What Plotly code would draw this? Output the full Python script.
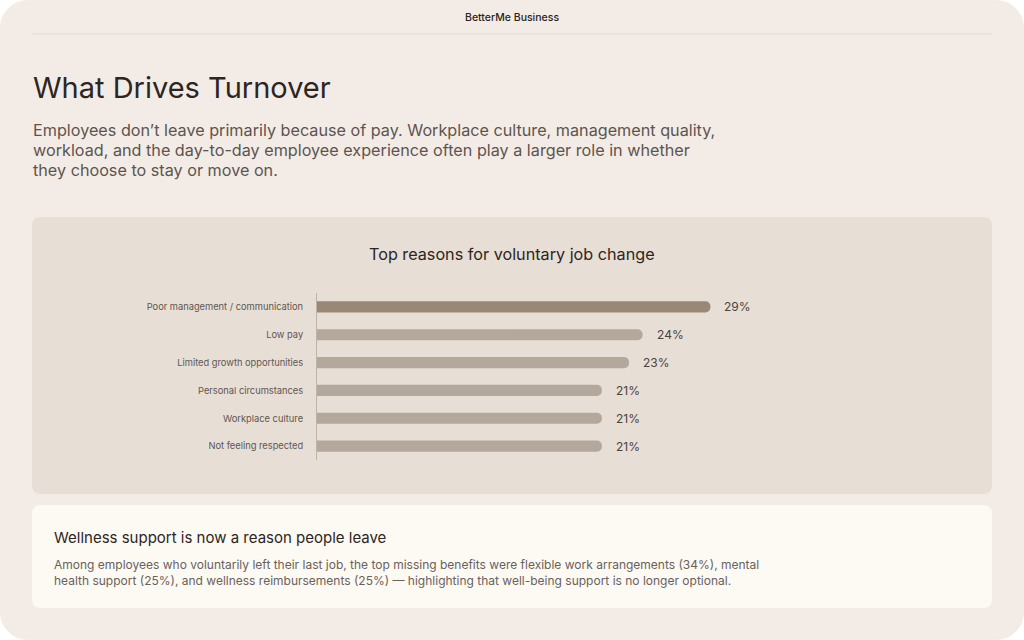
import plotly.graph_objects as go

W, H = 1024, 640

reasons = [
    "Poor management / communication",
    "Low pay",
    "Limited growth opportunities",
    "Personal circumstances",
    "Workplace culture",
    "Not feeling respected",
]
values = [29, 24, 23, 21, 21, 21]
value_labels = ["29%", "24%", "23%", "21%", "21%", "21%"]
bar_colors = ["#9A8877", "#B4A89C", "#B4A89C", "#B4A89C", "#B4A89C", "#B4A89C"]

header_text = "BetterMe Business"
title_text = "What Drives Turnover"
subtitle_lines = [
    "Employees don\u2019t leave primarily because of pay. Workplace culture, management quality,",
    "workload, and the day-to-day employee experience often play a larger role in whether",
    "they choose to stay or move on.",
]
chart_title = "Top reasons for voluntary job change"
card_heading = "Wellness support is now a reason people leave"
card_body_lines = [
    "Among employees who voluntarily left their last job, the top missing benefits were flexible work arrangements (34%), mental",
    "health support (25%), and wellness reimbursements (25%) \u2014 highlighting that well-being support is no longer optional.",
]

FONT = "Inter, 'Noto Sans', sans-serif"


def px(x):
    return x / W


def py(y):
    return 1 - y / H


def rrect(x0, y0, x1, y1, r):
    k = 0.5523 * r
    X = lambda v: f"{v / W:.6f}"
    Y = lambda v: f"{1 - v / H:.6f}"
    return (
        f"M {X(x0 + r)},{Y(y0)} L {X(x1 - r)},{Y(y0)} "
        f"C {X(x1 - r + k)},{Y(y0)} {X(x1)},{Y(y0 + r - k)} {X(x1)},{Y(y0 + r)} "
        f"L {X(x1)},{Y(y1 - r)} "
        f"C {X(x1)},{Y(y1 - r + k)} {X(x1 - r + k)},{Y(y1)} {X(x1 - r)},{Y(y1)} "
        f"L {X(x0 + r)},{Y(y1)} "
        f"C {X(x0 + r - k)},{Y(y1)} {X(x0)},{Y(y1 - r + k)} {X(x0)},{Y(y1 - r)} "
        f"L {X(x0)},{Y(y0 + r)} "
        f"C {X(x0)},{Y(y0 + r - k)} {X(x0 + r - k)},{Y(y0)} {X(x0 + r)},{Y(y0)} Z"
    )


fig = go.Figure()
fig.add_trace(go.Bar(
    x=values, y=reasons, orientation="h",
    marker=dict(color=bar_colors, cornerradius=6, line=dict(width=0)),
    hoverinfo="skip",
))

shapes = [
    dict(type="path", path=rrect(0, 0, 1024, 640, 28), xref="paper", yref="paper",
         fillcolor="#F3ECE6", line=dict(width=0), layer="below"),
    dict(type="line", x0=px(32), x1=px(992), y0=py(34), y1=py(34), xref="paper", yref="paper",
         line=dict(color="#E3DAD1", width=1), layer="below"),
    dict(type="path", path=rrect(32, 217, 992, 494, 8), xref="paper", yref="paper",
         fillcolor="#E7DED5", line=dict(width=0), layer="below"),
    dict(type="path", path=rrect(32, 505, 992, 608, 8), xref="paper", yref="paper",
         fillcolor="#FDFAF4", line=dict(width=0), layer="below"),
]

annotations = [
    dict(text=header_text, x=0.5, y=py(17), xanchor="center", yanchor="middle",
         font=dict(family=FONT, size=10.5, color="#2A2320", weight=500)),
    dict(text=title_text, x=px(31), y=py(88), xanchor="left", yanchor="middle",
         font=dict(family=FONT, size=29, color="#2D2521")),
    dict(text=chart_title, x=0.5, y=py(254), xanchor="center", yanchor="middle",
         font=dict(family=FONT, size=16.2, color="#2D2521")),
    dict(text=card_heading, x=px(52), y=py(537), xanchor="left", yanchor="middle",
         font=dict(family=FONT, size=15, color="#2D2521")),
]
for i, line in enumerate(subtitle_lines):
    annotations.append(dict(text=line, x=px(31), y=py(130 + 20 * i), xanchor="left", yanchor="middle",
                            font=dict(family=FONT, size=16.2, color="#5D544F")))
for i, line in enumerate(card_body_lines):
    annotations.append(dict(text=line, x=px(52), y=py(564 + 16 * i), xanchor="left", yanchor="middle",
                            font=dict(family=FONT, size=12, color="#6A615B")))
for r, v, lab in zip(reasons, values, value_labels):
    annotations.append(dict(text=lab, x=v, y=r, xref="x", yref="y", xanchor="left", yanchor="middle",
                            xshift=12, showarrow=False,
                            font=dict(family=FONT, size=12, color="#4B423D")))
for a in annotations:
    a.setdefault("xref", "paper")
    a.setdefault("yref", "paper")
    a["showarrow"] = False

fig.update_layout(
    width=W, height=H,
    margin=dict(l=0, r=0, t=0, b=0, pad=0),
    paper_bgcolor="#FFFFFF",
    plot_bgcolor="rgba(0,0,0,0)",
    showlegend=False,
    bargap=0.6,
    shapes=shapes,
    annotations=annotations,
    xaxis=dict(range=[0, 30], domain=[px(317), px(724)], visible=False, fixedrange=True),
    yaxis=dict(type="category", autorange="reversed", domain=[py(460), py(293)],
               showline=True, linecolor="#BEB3A8", linewidth=1, showgrid=False, zeroline=False,
               ticks="", ticklabelstandoff=11, fixedrange=True,
               tickfont=dict(family=FONT, size=9.3, color="#5F5651")),
)

fig.write_html("out.html", config={"displayModeBar": False})
